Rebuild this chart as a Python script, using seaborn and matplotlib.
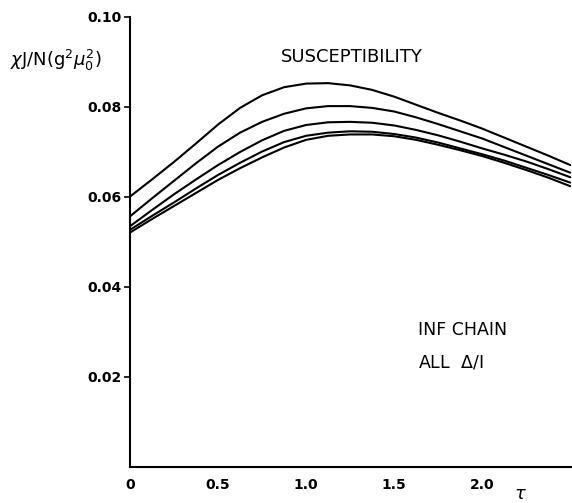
import numpy as np
import pandas as pd
import matplotlib
matplotlib.use("Agg")
import matplotlib.pyplot as plt
import seaborn as sns

# ---- data ----
tau = [0.0, 0.125, 0.25, 0.375, 0.5, 0.625, 0.75, 0.875, 1.0, 1.125, 1.25,
       1.375, 1.5, 1.625, 1.75, 1.875, 2.0, 2.125, 2.25, 2.375, 2.5]
curve1 = [0.0601, 0.0639, 0.0678, 0.0719, 0.0761, 0.0798, 0.0826, 0.0844, 0.0852, 0.0853, 0.0848,
          0.0838, 0.0823, 0.0805, 0.0787, 0.0770, 0.0752, 0.0732, 0.0712, 0.0692, 0.0671]
curve2 = [0.0557, 0.0597, 0.0636, 0.0675, 0.0712, 0.0743, 0.0767, 0.0785, 0.0797, 0.0802, 0.0802,
          0.0798, 0.0790, 0.0777, 0.0762, 0.0746, 0.0730, 0.0711, 0.0692, 0.0673, 0.0654]
curve3 = [0.0535, 0.0571, 0.0606, 0.0639, 0.0671, 0.0700, 0.0726, 0.0747, 0.0760, 0.0766, 0.0767,
          0.0765, 0.0759, 0.0749, 0.0737, 0.0723, 0.0708, 0.0694, 0.0679, 0.0662, 0.0644]
curve4 = [0.0527, 0.0558, 0.0588, 0.0619, 0.0649, 0.0676, 0.0701, 0.0722, 0.0736, 0.0743, 0.0746,
          0.0745, 0.0740, 0.0732, 0.0721, 0.0708, 0.0695, 0.0681, 0.0665, 0.0649, 0.0632]
curve5 = [0.0521, 0.0551, 0.0580, 0.0609, 0.0638, 0.0664, 0.0688, 0.0710, 0.0727, 0.0736, 0.0739,
          0.0739, 0.0735, 0.0727, 0.0716, 0.0704, 0.0691, 0.0676, 0.0660, 0.0643, 0.0624]
curve_names = ["c1", "c2", "c3", "c4", "c5"]

xticks = [0.0, 0.5, 1.0, 1.5, 2.0]
xticklabels = ["0", "0.5", "1.0", "1.5", "2.0"]
yticks = [0.02, 0.04, 0.06, 0.08, 0.10]
yticklabels = ["0.02", "0.04", "0.06", "0.08", "0.10"]

frames = []
for name, vals in zip(curve_names, [curve1, curve2, curve3, curve4, curve5]):
    frames.append(pd.DataFrame({"tau": tau, "chi": vals, "curve": name}))
df = pd.concat(frames, ignore_index=True)

sns.set_style("ticks")
plt.rcParams["font.family"] = ["DejaVu Sans"]
plt.rcParams["text.color"] = "black"
plt.rcParams["xtick.color"] = "black"
plt.rcParams["ytick.color"] = "black"
plt.rcParams["axes.edgecolor"] = "black"

fig = plt.figure(figsize=(5.72, 5.03), dpi=100)
ax = fig.add_axes([130 / 572, 1 - 467 / 503, 442 / 572, 450 / 503])

sns.lineplot(data=df, x="tau", y="chi", hue="curve",
             palette=["black"] * 5, legend=False, linewidth=1.5, ax=ax)

ax.set_xlim(0, 2.51)
ax.set_ylim(0, 0.10)
ax.set_xticks(xticks)
ax.set_xticklabels(xticklabels, fontsize=10, fontweight="bold")
ax.set_yticks(yticks)
ax.set_yticklabels(yticklabels, fontsize=10, fontweight="bold")
ax.tick_params(axis="x", length=0, pad=8)
ax.tick_params(axis="y", length=4, width=1.2, direction="out", pad=2)
for s in ["top", "right"]:
    ax.spines[s].set_visible(False)
for s in ["left", "bottom"]:
    ax.spines[s].set_linewidth(1.5)
ax.set_xlabel("")
ax.set_ylabel("")

ax.text(1.26, 0.0911, "SUSCEPTIBILITY", fontsize=13, ha="center", va="center")
ax.text(1.636, 0.0304, "INF CHAIN", fontsize=12.5, ha="left", va="center")
ax.text(1.636, 0.0233, r"ALL  $\Delta$/I", fontsize=12.5, ha="left", va="center")
ax.text(2.22, -0.006, r"$\tau$", fontsize=13, ha="center", va="center")

fig.text(10 / 572, 1 - 60 / 503, r"$\chi$J/N(g$^2\mu_0^2$)", fontsize=13,
         ha="left", va="center")

fig.savefig("out.png", dpi=100)
